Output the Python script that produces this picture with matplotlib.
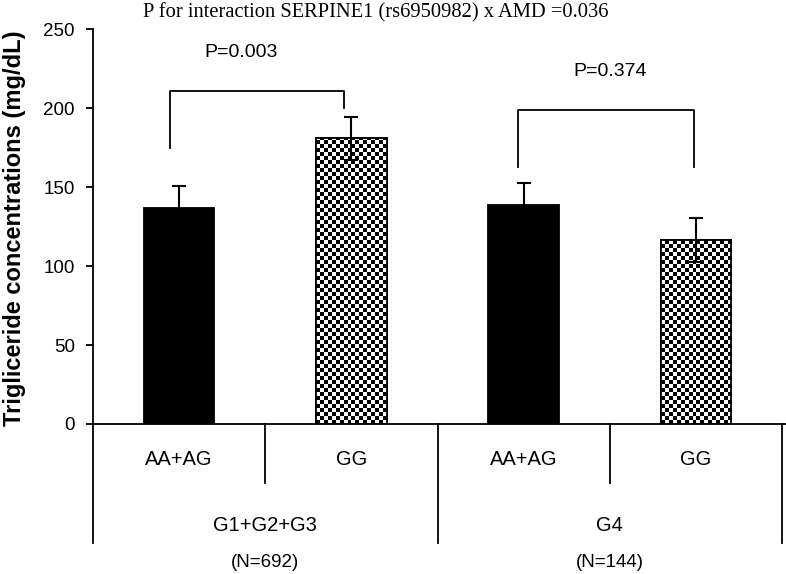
import matplotlib
matplotlib.use('Agg')
import matplotlib.pyplot as plt
import numpy as np

plt.rcParams['font.family'] = ['Liberation Sans', 'DejaVu Sans']

# data
genotypes = ['AA+AG', 'GG', 'AA+AG', 'GG']
groups = ['G1+G2+G3', 'G4']
group_n = ['(N=692)', '(N=144)']
means = [137, 181, 138.5, 116.5]
errors = [13.5, 13.5, 14, 14]
checkered = [False, True, False, True]
p_pairs = ['P=0.003', 'P=0.374']
title = 'P for interaction SERPINE1 (rs6950982) x AMD =0.036'
ylabel = 'Trigliceride concentrations (mg/dL)'

fig = plt.figure(figsize=(7.86, 5.74), dpi=100)
ax = fig.add_axes([93 / 786, 1 - 424 / 574, 693 / 786, (424 - 29.3) / 574])

xpos = np.arange(len(means)) + 0.5
width = 0.41
lw = 1.3

bars = ax.bar(xpos, means, width, color=['white' if c else 'black' for c in checkered],
              edgecolor='black', linewidth=lw, zorder=2)

# checkerboard fill for GG bars
cell_h = 4 / 1.58
for b, c in zip(bars, checkered):
    if not c:
        continue
    x0, w, h = b.get_x(), b.get_width(), b.get_height()
    ncol = 18
    nrow = int(np.ceil(h / cell_h))
    board = (np.add.outer(np.arange(nrow), np.arange(ncol)) % 2).astype(float)
    im = ax.imshow(board, cmap='gray', extent=(x0, x0 + w, 0, nrow * cell_h),
                   origin='lower', interpolation='nearest', aspect='auto', zorder=2.5)
    im.set_clip_path(b)
    ax.bar(b.get_x() + w / 2, h, w, fill=False, edgecolor='black', linewidth=lw, zorder=3)

ax.errorbar(xpos, means, yerr=errors, fmt='none', ecolor='black', elinewidth=1.5,
            capsize=4.7, capthick=1.5, zorder=4)

# significance brackets
brackets = [(0.449, 1.457, 211, 174.7, 200, 0.861, 235),
            (2.47, 3.49, 199, 162.7, 162.7, 3.0, 223)]
for (xa, xb, top, la, lb, tx, ty), p in zip(brackets, p_pairs):
    ax.plot([xa, xa, xb, xb], [la, top, top, lb], color='black', lw=lw, zorder=5)
    ax.text(tx, ty, p, ha='center', va='center', fontsize=14)

ax.set_xlim(0, 4.023)
ax.set_ylim(0, 250)
ax.set_yticks(np.arange(0, 251, 50))
ax.tick_params(axis='y', labelsize=13.5, width=lw, length=5, direction='out', pad=8)
ax.set_xticks([])
for s in ['top', 'right']:
    ax.spines[s].set_visible(False)
for s in ['left', 'bottom']:
    ax.spines[s].set_linewidth(lw)

# category table below the axis
for x in [0, 2, 4]:
    ax.plot([x, x], [0, -75.3], color='black', lw=lw, clip_on=False)
for x in [1, 3]:
    ax.plot([x, x], [0, -37.3], color='black', lw=lw, clip_on=False)
for x, g in zip(xpos, genotypes):
    ax.text(x, -22.8, g, ha='center', va='center', fontsize=14.5)
for i, (g, n) in enumerate(zip(groups, group_n)):
    ax.text(2 * i + 1, -64.6, g, ha='center', va='center', fontsize=14.5)
    ax.text(2 * i + 1, -88, n, ha='center', va='center', fontsize=13.5)

fig.text(376 / 786, 1 - 13 / 574, title, ha='center', va='center', fontsize=14.8,
         family=['Liberation Serif', 'DejaVu Serif'])
fig.text(15 / 786, 1 - 228 / 574, ylabel, ha='center', va='center', rotation=90,
         fontsize=17, fontweight='bold')

fig.savefig('out.png', dpi=100)
